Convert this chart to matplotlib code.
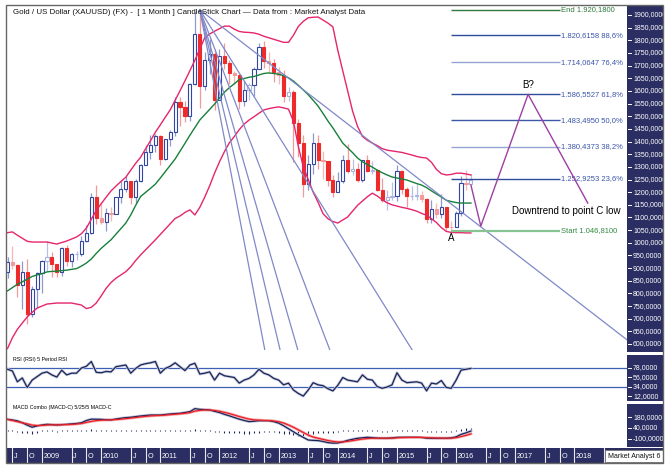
import matplotlib
matplotlib.use("Agg")
import matplotlib.pyplot as plt
from matplotlib.patches import Rectangle
import numpy as np

plt.rcParams['font.family'] = ['Liberation Sans', 'DejaVu Sans']

# monthly candles, Jun 2008 .. Apr 2016 (index 0 = Jun 2008)
opens = [
    886, 926, 913, 833, 884, 717, 816,
    882, 927, 942, 916, 883, 979, 927, 954, 955, 1008, 1040, 1181,
    1097, 1083, 1118, 1113, 1180, 1213, 1244, 1181, 1246, 1308, 1357, 1386,
    1421, 1333, 1409, 1439, 1556, 1536, 1500, 1628, 1826, 1620, 1722, 1746,
    1566, 1738, 1710, 1669, 1664, 1561, 1604, 1622, 1688, 1772, 1719, 1712,
    1675, 1662, 1578, 1596, 1472, 1393, 1234, 1313, 1396, 1327, 1323, 1250,
    1202, 1244, 1326, 1284, 1291, 1250, 1327, 1282, 1287, 1210, 1171, 1182,
    1184, 1283, 1212, 1183, 1183, 1190, 1172, 1095, 1133, 1115, 1142, 1064,
    1061, 1118, 1238, 1234,
]
highs = [
    942, 988, 918, 930, 934, 830, 885,
    933, 1007, 963, 918, 984, 990, 960, 966, 1025, 1072, 1195, 1227,
    1162, 1139, 1140, 1180, 1249, 1265, 1245, 1251, 1310, 1387, 1424, 1431,
    1424, 1411, 1447, 1576, 1577, 1560, 1632, 1912, 1921, 1755, 1804, 1764,
    1764, 1791, 1723, 1677, 1667, 1640, 1630, 1696, 1788, 1796, 1755, 1726,
    1694, 1684, 1617, 1605, 1488, 1424, 1348, 1434, 1424, 1361, 1324, 1267,
    1280, 1345, 1392, 1331, 1315, 1326, 1345, 1323, 1290, 1256, 1208, 1239,
    1307, 1289, 1220, 1224, 1232, 1205, 1175, 1170, 1157, 1191, 1142, 1088,
    1127, 1263, 1287, 1270,
]
lows = [
    860, 897, 786, 740, 681, 705, 744,
    800, 890, 865, 866, 867, 910, 904, 933, 948, 1003, 1033, 1075,
    1075, 1045, 1088, 1112, 1157, 1200, 1155, 1157, 1242, 1306, 1330, 1359,
    1309, 1329, 1381, 1420, 1462, 1478, 1480, 1623, 1534, 1603, 1666, 1523,
    1564, 1688, 1627, 1627, 1527, 1540, 1564, 1581, 1686, 1692, 1672, 1635,
    1626, 1555, 1562, 1321, 1338, 1180, 1208, 1270, 1292, 1251, 1226, 1182,
    1202, 1238, 1277, 1268, 1240, 1240, 1280, 1273, 1204, 1161, 1131, 1171,
    1167, 1191, 1142, 1170, 1170, 1162, 1077, 1080, 1098, 1097, 1052, 1046.81,
    1061, 1107, 1208, 1227,
]
closes = [
    926, 913, 833, 884, 717, 816, 882,
    927, 942, 916, 883, 979, 927, 954, 955, 1008, 1040, 1181, 1097,
    1083, 1118, 1113, 1180, 1213, 1244, 1181, 1246, 1308, 1357, 1386, 1421,
    1333, 1409, 1439, 1556, 1536, 1500, 1628, 1826, 1620, 1722, 1746, 1566,
    1738, 1710, 1669, 1664, 1561, 1604, 1622, 1688, 1772, 1719, 1712, 1675,
    1662, 1578, 1596, 1472, 1393, 1234, 1313, 1396, 1327, 1323, 1250, 1202,
    1244, 1326, 1284, 1291, 1250, 1327, 1282, 1287, 1210, 1171, 1182, 1184,
    1283, 1212, 1183, 1183, 1190, 1172, 1095, 1133, 1115, 1142, 1064, 1061,
    1118, 1238, 1234, 1250,
]

# bollinger bands
bb_upper = [
    1040, 1043, 1030, 1018, 1006, 1003, 1003,
    1003, 1003, 999, 995, 1001, 1007, 1015, 1023, 1036, 1058, 1093, 1128,
    1154, 1180, 1205, 1224, 1242, 1259, 1287, 1314, 1338, 1371, 1403, 1437,
    1466, 1496, 1525, 1563, 1601, 1640, 1680, 1721, 1765, 1810, 1825, 1836,
    1846, 1856, 1856, 1844, 1835, 1832, 1831, 1829, 1824, 1816, 1810, 1804,
    1798, 1792, 1792, 1820, 1855, 1875, 1889, 1891, 1892, 1880, 1868, 1853,
    1760, 1680, 1600, 1520, 1460, 1420, 1405, 1394, 1384, 1372, 1366, 1363,
    1360, 1357, 1352, 1347, 1341, 1337, 1335, 1318, 1290, 1273, 1268, 1270,
    1275, 1275, 1272, 1268,
]
bb_mid = [
    810, 823, 836, 846, 856, 867, 873,
    878, 885, 887, 888, 890, 892, 895, 898, 908, 920, 936, 958,
    978, 995, 1012, 1034, 1056, 1078, 1110, 1148, 1183, 1199, 1215, 1232,
    1256, 1281, 1306, 1331, 1362, 1393, 1425, 1455, 1485, 1506, 1527, 1548,
    1572, 1595, 1613, 1628, 1645, 1649, 1654, 1657, 1663, 1669, 1671, 1669,
    1666, 1661, 1652, 1639, 1622, 1604, 1585, 1563, 1540, 1511, 1481, 1454,
    1424, 1394, 1375, 1356, 1335, 1320, 1309, 1299, 1287, 1277, 1268, 1260,
    1256, 1252, 1248, 1241, 1234, 1228, 1218, 1205, 1193, 1181, 1168, 1163,
    1159, 1157, 1157, 1157,
]
bb_lower = [
    582, 625, 658, 683, 707, 725, 742,
    750, 758, 760, 762, 762, 762, 762, 758, 754, 740, 745, 762,
    790, 820, 843, 860, 873, 886, 905, 930, 952, 972, 992, 1012,
    1033, 1054, 1075, 1096, 1106, 1120, 1130, 1110, 1140, 1180, 1225, 1275,
    1320, 1360, 1395, 1420, 1447, 1469, 1485, 1498, 1512, 1525, 1530, 1534,
    1537, 1533, 1528, 1480, 1380, 1300, 1250, 1200, 1160, 1115, 1095, 1084,
    1078, 1090, 1102, 1125, 1148, 1165, 1182, 1196, 1185, 1170, 1158, 1150,
    1145, 1140, 1136, 1131, 1125, 1116, 1109, 1095, 1080, 1060, 1045, 1041,
    1040, 1040, 1039, 1039,
]

rsi = [
    75, 71, 46, 55, 33, 50, 58,
    66, 69, 62, 57, 73, 62, 66, 66, 78, 82, 93, 68,
    67, 70, 69, 81, 83, 85, 66, 77, 85, 88, 90, 93,
    66, 77, 82, 90, 81, 72, 85, 89, 64, 66, 69, 50,
    66, 60, 58, 56, 43, 50, 54, 62, 75, 66, 62, 54,
    50, 39, 43, 27, 19, 13, 27, 44, 39, 37, 30, 25,
    38, 56, 50, 48, 46, 62, 52, 50, 35, 31, 34, 39,
    67, 50, 44, 45, 46, 43, 25, 43, 41, 49, 33, 31,
    50, 73, 75, 77,
]
macd = [
    155, 147, 135, 110, 78, 50, 68,
    80, 89, 85, 80, 85, 89, 95, 100, 110, 140, 158, 157,
    155, 150, 148, 160, 170, 178, 183, 192, 200, 207, 213, 213,
    213, 220, 227, 232, 236, 247, 258, 298, 289, 285, 280, 262,
    246, 222, 202, 180, 158, 140, 125, 130, 137, 137, 137, 125,
    105, 70, 30, -10, -50, -85, -120, -125, -128, -140, -155, -162,
    -160, -145, -125, -110, -97, -90, -84, -88, -95, -97, -97, -92,
    -85, -84, -84, -84, -84, -86, -95, -97, -97, -97, -97, -92,
    -78, -45, -25, 0,
]
macd_signal = [
    155, 140, 125, 110, 95, 78, 72,
    75, 80, 82, 82, 83, 85, 88, 93, 100, 115, 128, 138,
    144, 147, 148, 152, 158, 165, 172, 180, 188, 195, 201, 205,
    208, 212, 218, 224, 229, 236, 245, 265, 275, 280, 280, 274,
    263, 248, 232, 213, 193, 175, 158, 149, 145, 141, 139, 134,
    124, 106, 80, 50, 15, -20, -55, -80, -97, -112, -127, -139,
    -146, -146, -138, -128, -117, -107, -100, -96, -96, -96, -96, -95,
    -91, -88, -86, -85, -85, -85, -89, -92, -94, -95, -96, -95,
    -89, -74, -58, -38,
]
macd_hist = [
    10, 10, -15, -20, -30, -35, -20,
    10, 10, 10, -10, 10, 10, 10, 10, 10, 20, 25, 15,
    10, 10, 10, 10, 12, 12, 12, 12, 12, 12, 12, 10,
    10, 10, 10, 10, 10, 12, 15, 30, 15, 10, 10, -10,
    -15, -20, -25, -30, -33, -35, -35, -33, -20, -10, -10, -10,
    -20, -35, -45, -55, -60, -60, -60, -45, -30, -25, -25, -20,
    -15, 10, 15, 18, 20, 17, 15, 10, 10, -10, -10, 10,
    10, 10, 10, 10, 10, 10, -10, -10, -10, -10, -10, -10,
    15, 30, 35, 40,
]

# fibonacci projection (Dec 2015 low -> Sep 2011 high)
fib_levels = [1920.18, 1820.6158, 1714.0647, 1586.5527, 1483.4950,
              1380.4373, 1252.9253, 1046.81]
fib_labels = ['End 1.920,1800', '1.820,6158 88,6%', '1.714,0647 76,4%',
              '1.586,5527 61,8%', '1.483,4950 50,0%', '1.380,4373 38,2%',
              '1.252,9253 23,6%', 'Start 1.046,8100']
fib_colors = ['#2f7a3c', '#2f4c9c', '#96a4d4', '#2f4c9c', '#3b57a6',
              '#96a4d4', '#2f4c9c', '#86c494']
fib_text_colors = ['#2f7a3c'] + ['#3b55aa'] * 6 + ['#2f8a40']
fib_start_k, fib_end_k = 90, 112

# fan lines from the Sep 2011 high
fan_end_k = [52.2, 55.3, 58.9, 65.4, 82.1, 125.7]
fan_end_p = [576, 576, 576, 576, 576, 616]

# projected path A -> B? -> C
proj_k = [94, 96, 105.6, 117.7]
proj_p = [1228, 1066, 1586.55, 1157]

price_ticks = list(range(600, 1901, 50))
rsi_ticks = [78, 56, 34, 12]
macd_ticks = [180, 40, -100]

W, H = 671, 471
NAVY = '#2b2e62'


def frac(x0, y0, x1, y1):
    return [x0 / W, 1 - y1 / H, (x1 - x0) / W, (y1 - y0) / H]


# pixel <-> data helpers for the layout
def kx(px):
    return (px - 7.5) / 4.93


def price_at(py):
    return 1900 - (py - 15) * 3.951


def rsi_at(py):
    return 78 - (py - 368) * 2.316


def macd_at(py):
    return 40 - (py - 428) * 13.33


fig = plt.figure(figsize=(W / 100, H / 100), dpi=100)
ks = np.arange(len(opens))

# ---- price panel
ax = fig.add_axes(frac(6, 5, 627, 350))
ax.set_xlim(kx(6), kx(627))
ax.set_ylim(price_at(350), price_at(5))
ax.axis('off')

for k in ks:
    o, h, l, c = opens[k], highs[k], lows[k], closes[k]
    pale = abs(c - o) < 20
    if c >= o:
        edge = '#a9b3de' if pale else '#3247a3'
        face = 'white'
        wick = '#b7c0e3' if pale else '#8e9acf'
    else:
        edge = face = '#f39a9a' if pale else '#ee2b2b'
        wick = '#f6b7b7' if pale else '#f29a9a'
    ax.vlines(k, l, h, color=wick, lw=0.9, zorder=2)
    ax.bar(k, max(abs(c - o), 3), bottom=min(o, c), width=0.64,
           facecolor=face, edgecolor=edge, lw=0.8, zorder=3)

ax.plot(ks, bb_upper, color='#e6256c', lw=1, zorder=4)
ax.plot(ks, bb_lower, color='#e6256c', lw=1, zorder=4)
ax.plot(ks, bb_mid, color='#17803a', lw=1, zorder=4)

apex_k, apex_p = 39, highs[39]
for ek, ep in zip(fan_end_k, fan_end_p):
    ax.plot([apex_k, ek], [apex_p, ep], color='#8089c8', lw=0.9, zorder=5)

for lev, lab, col, tcol in zip(fib_levels, fib_labels, fib_colors, fib_text_colors):
    lw = 1.6 if lab.startswith('Start') else 1.0
    ax.hlines(lev, fib_start_k, fib_end_k, color=col, lw=lw, zorder=5)
    ax.text(fib_end_k + 0.3, lev, lab, color=tcol, fontsize=5.5,
            va='center', ha='left', zorder=6)

ax.plot(proj_k, proj_p, color='#9c3fa3', lw=1, zorder=6)
ax.text(proj_k[2], 1625, 'B?', fontsize=7, ha='center', va='center')
ax.text(90, 1018, 'A', fontsize=7, ha='center', va='center')
ax.text(113.3, 1126, 'Downtrend to point C low', fontsize=7,
        ha='center', va='center')

fig.text(13 / W, 1 - 13 / H,
         'Gold / US Dollar (XAUUSD) (FX) -  [ 1 Month ] CandleStick Chart '
         '\u2014 Data from : Market Analyst Data',
         fontsize=5.7, va='center', ha='left', color='#111111')

# ---- RSI panel
ax_r = fig.add_axes(frac(6, 354, 627, 402))
ax_r.set_xlim(kx(6), kx(627))
ax_r.set_ylim(rsi_at(402), rsi_at(354))
ax_r.axis('off')
ax_r.axhline(78, color='#3d5fb5', lw=0.9)
ax_r.axhline(34, color='#3d5fb5', lw=0.9)
ax_r.plot(ks, rsi, color='#c3c9df', lw=2.0)
ax_r.plot(ks, rsi, color='#1d2556', lw=0.9)
fig.text(13 / W, 1 - 359 / H, 'RSI (RSI) 5 Period RSI', fontsize=3.8,
         va='center', ha='left')

# ---- MACD panel
ax_m = fig.add_axes(frac(6, 403, 627, 447))
ax_m.set_xlim(kx(6), kx(627))
ax_m.set_ylim(macd_at(447), macd_at(403))
ax_m.axis('off')
ax_m.vlines(ks, 0, macd_hist, color='#1d2556', lw=0.8)
ax_m.plot(ks, macd, color='#c3c9df', lw=2.0)
ax_m.plot(ks, macd_signal, color='#f4a7a7', lw=2.0)
ax_m.plot(ks, macd, color='#1d2556', lw=0.9)
ax_m.plot(ks, macd_signal, color='#e8202a', lw=0.9)
fig.text(13 / W, 1 - 407 / H, 'MACD Combo (MACD-C) 5/25/5 MACD-C',
         fontsize=3.8, va='center', ha='left')


# ---- right scale panels
def scale_panel(rect, lo, hi, ticks):
    a = fig.add_axes(rect)
    a.set_facecolor(NAVY)
    a.set_xlim(0, 1)
    a.set_ylim(lo, hi)
    a.set_xticks([])
    a.set_yticks([])
    for s in a.spines.values():
        s.set_visible(False)
    for t in ticks:
        a.plot([0.02, 0.1], [t, t], color='white', lw=0.7)
        a.text(0.17, t, f'{t},0000', color='white', fontsize=5,
               va='center', ha='left', clip_on=True)
    return a


scale_panel(frac(627, 5, 663, 352), price_at(352), price_at(5), price_ticks)
scale_panel(frac(627, 355, 663, 401), rsi_at(401), rsi_at(355), rsi_ticks)
scale_panel(frac(627, 404, 663, 447), macd_at(447), macd_at(404), macd_ticks)

# ---- time band
ax_t = fig.add_axes(frac(6, 448, 663, 463))
ax_t.set_facecolor(NAVY)
ax_t.set_xlim(kx(6), kx(663))
ax_t.set_ylim(0, 1)
ax_t.set_xticks([])
ax_t.set_yticks([])
for s in ax_t.spines.values():
    s.set_visible(False)

time_k = [1, 4]
time_lab = ['J', 'O']
for year in range(2009, 2019):
    base = 7 + 12 * (year - 2009)
    time_k.append(base)
    time_lab.append(str(year))
    if year < 2018:
        time_k += [base + 6, base + 9]
        time_lab += ['J', 'O']
for k, lab in zip(time_k, time_lab):
    ax_t.axvline(k, color='#e8e8f0', lw=0.8)
    ax_t.text(k + 0.35, 0.45, lab, color='white', fontsize=5.2,
              va='center', ha='left')
ax_t.axvline(121, color='#e8e8f0', lw=0.8)

fig.patches.append(Rectangle((605 / W, 1 - 462 / H), 58 / W, 12 / H,
                             transform=fig.transFigure, facecolor='white',
                             edgecolor='#777777', lw=0.6, zorder=10))
fig.text(634 / W, 1 - 456 / H, 'Market Analyst 6', fontsize=5,
         ha='center', va='center', color='#111111', zorder=11)

# outer frame
fig.patches.append(Rectangle((6 / W, 1 - 463 / H), 657 / W, 458 / H,
                             transform=fig.transFigure, fill=False,
                             edgecolor='#666666', lw=1, zorder=12))

fig.savefig('out.png', dpi=100)
